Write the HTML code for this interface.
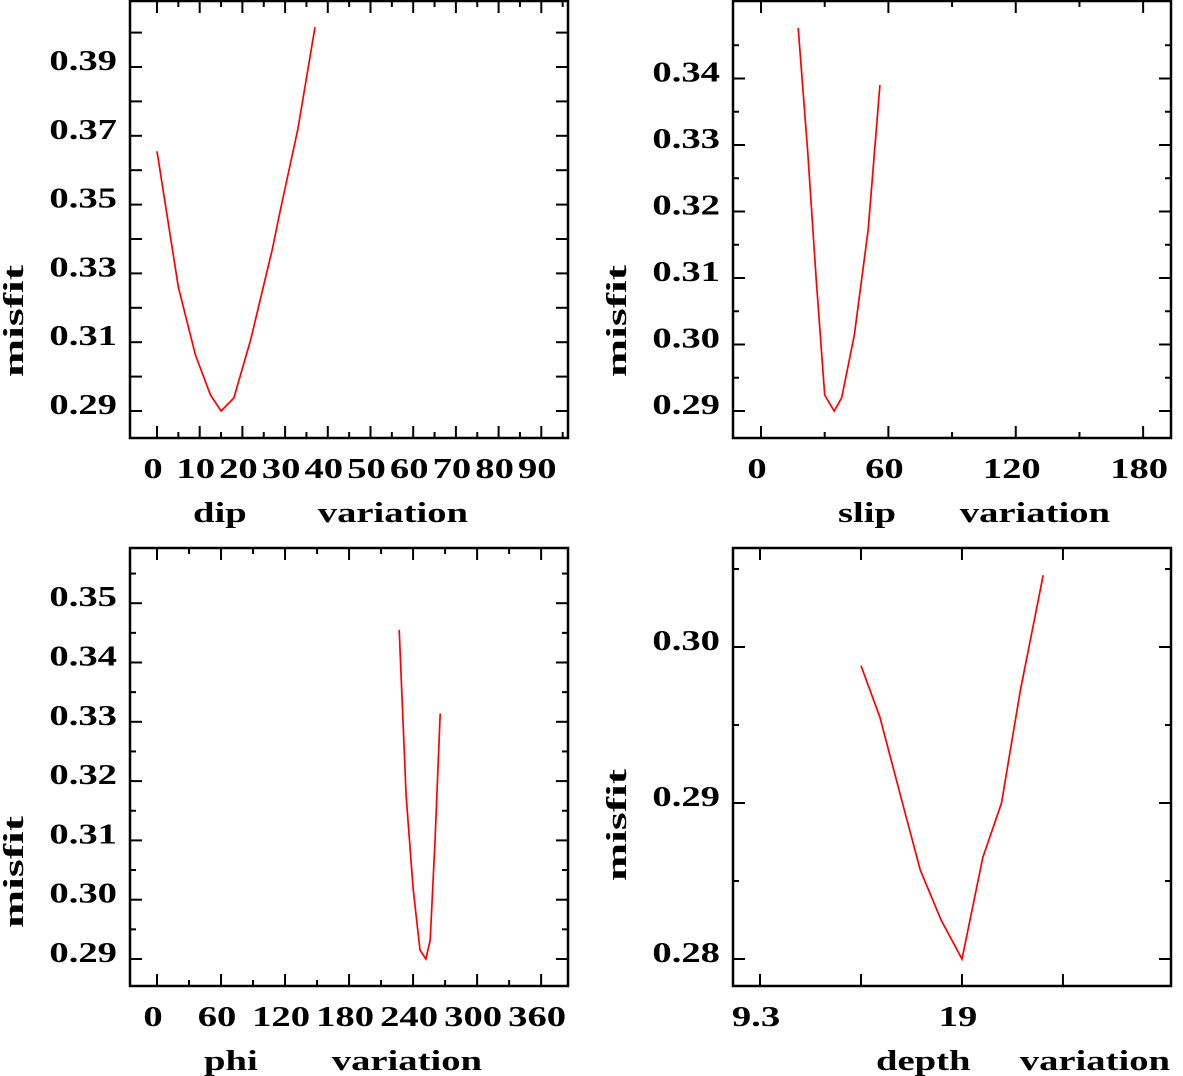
<!DOCTYPE html>
<html><head><meta charset="utf-8"><style>
html,body{margin:0;padding:0;background:#fff;}
svg{display:block;}
text{font-family:"Liberation Serif",serif;font-weight:bold;fill:#000;}
</style></head><body>
<svg id="chart" width="1183" height="1076" viewBox="0 0 1183 1076" xmlns="http://www.w3.org/2000/svg"></svg>
<script>
// Panel 1: dip
const dipX = [0, 5, 9, 12.5, 15, 18, 22, 27, 29, 33, 37];
const dipY = [0.3655, 0.3261, 0.3063, 0.2947, 0.29, 0.2938, 0.311, 0.337, 0.349, 0.372, 0.4016];
const dipXTicks = [0,10,20,30,40,50,60,70,80,90];
const dipYTicks = [0.29,0.31,0.33,0.35,0.37,0.39];
// Panel 2: slip
const slipX = [17.5, 22, 26, 30, 34.5, 38, 44, 50.5, 56];
const slipY = [0.3476, 0.329, 0.3098, 0.2924, 0.29, 0.292, 0.3015, 0.3173, 0.339];
const slipXTicks = [0,60,120,180];
const slipYTicks = [0.29,0.30,0.31,0.32,0.33,0.34];
// Panel 3: phi
const phiX = [227, 233.5, 240, 246.5, 252, 256, 260.6, 265.4];
const phiY = [0.3455, 0.3176, 0.3019, 0.2915, 0.29, 0.2932, 0.3102, 0.3314];
const phiXTicks = [0,60,120,180,240,300,360];
const phiYTicks = [0.29,0.30,0.31,0.32,0.33,0.34,0.35];
// Panel 4: depth
const depthX = [14.15, 15.06, 16.2, 17.0, 18.0, 19.0, 20.0, 20.9, 21.8, 22.9];
const depthY = [0.2988, 0.2955, 0.2897, 0.2857, 0.2825, 0.28, 0.2865, 0.29, 0.2972, 0.3046];
const depthXTicks = ["9.3","19"];
const depthYTicks = [0.28,0.29,0.30];

const NS="http://www.w3.org/2000/svg";
const svg=document.getElementById('chart');
function mk(tag,attrs,parent){const e=document.createElementNS(NS,tag);for(const k in attrs)e.setAttribute(k,attrs[k]);(parent||svg).appendChild(e);return e;}
const SX=1.38, FS=28;

function panel(p){
  const g=mk('g',{});
  
  
  const sx=v=>p.x0+(v-p.xa)*p.xs;
  const sy=v=>p.y0-(v-p.ya)*p.ys;
  const box=mk('rect',{x:p.L,y:p.T,width:p.R-p.L,height:p.B-p.T,fill:'none',stroke:'#000','stroke-width':2.5},g);
  
  
  p.xMajor.forEach(v=>{const x=sx(v);
    mk('line',{x1:x,x2:x,y1:p.B,y2:p.B-12,stroke:'#000','stroke-width':2},g);
    mk('line',{x1:x,x2:x,y1:p.T,y2:p.T+12,stroke:'#000','stroke-width':2},g);});
  p.xMinor.forEach(v=>{const x=sx(v);
    mk('line',{x1:x,x2:x,y1:p.B,y2:p.B-6,stroke:'#000','stroke-width':2},g);
    mk('line',{x1:x,x2:x,y1:p.T,y2:p.T+6,stroke:'#000','stroke-width':2},g);});
  p.yMajor.forEach(v=>{const y=sy(v);
    mk('line',{x1:p.L,x2:p.L+12,y1:y,y2:y,stroke:'#000','stroke-width':2},g);
    mk('line',{x1:p.R,x2:p.R-12,y1:y,y2:y,stroke:'#000','stroke-width':2},g);});
  p.yMinor.forEach(v=>{const y=sy(v);
    mk('line',{x1:p.L,x2:p.L+6,y1:y,y2:y,stroke:'#000','stroke-width':2},g);
    mk('line',{x1:p.R,x2:p.R-6,y1:y,y2:y,stroke:'#000','stroke-width':2},g);});
  p.xLabels.forEach(v=>{const t=mk('text',{x:0,y:0,'text-anchor':'middle','font-size':FS,transform:`translate(${sx(+v)-4},${p.B+40}) scale(${SX},1)`},g);t.textContent=v;
    
    });
  p.yLabels.forEach(v=>{const t=mk('text',{x:0,y:0,'text-anchor':'end','font-size':FS,transform:`translate(${p.L-13},${sy(v)+3}) scale(${SX},1)`},g);t.textContent=v.toFixed(2);
    
    });
  const w=p.xtitle.split(' ');
  const xt=mk('text',{x:0,y:0,'font-size':FS,transform:`translate(${p.xt0},${p.B+84}) scale(${SX},1)`},g);
  xt.textContent=w[0];
  
  
  const xt2=mk('text',{x:0,y:0,'font-size':FS,'text-anchor':'end',transform:`translate(${p.xt1},${p.B+84}) scale(${SX},1)`},g);
  xt2.textContent=w[1];
  
  
  const yt=mk('text',{x:0,y:0,'text-anchor':'middle','font-size':FS,textLength:112,lengthAdjust:'spacingAndGlyphs',transform:`translate(${p.L-107},${p.ytY}) rotate(-90)`},g);
  yt.textContent='misfit';
  
  
  const d=p.xs_data.map((v,i)=>(i?'L':'M')+sx(v).toFixed(1)+' '+sy(p.ys_data[i]).toFixed(1)).join(' ');
  const path=mk('path',{d:d,fill:'none',stroke:'#ff0000','stroke-width':1.7},g);
  
  
}
function range(a,b,s){const r=[];for(let v=a;v<=b+1e-9;v+=s)r.push(+v.toFixed(4));return r;}

panel({name:'dip',L:130,R:568,T:1,B:438,x0:157,xa:0,xs:4.27,y0:411,ya:0.29,ys:3440,
  xMajor:dipXTicks,xMinor:range(5,95,10),yMajor:range(0.29,0.40,0.01),yMinor:[],
  xLabels:dipXTicks.map(String),yLabels:dipYTicks,xtitle:'dip variation',xt0:193,xt1:468,ytY:321,
  xs_data:dipX,ys_data:dipY});
panel({name:'slip',L:733,R:1171,T:1,B:438,x0:761,xa:0,xs:2.123,y0:411,ya:0.29,ys:6650,
  xMajor:slipXTicks,xMinor:range(30,150,60),yMajor:range(0.29,0.34,0.01),yMinor:range(0.295,0.345,0.01),
  xLabels:slipXTicks.map(String),yLabels:slipYTicks,xtitle:'slip variation',xt0:838,xt1:1110,ytY:321,
  xs_data:slipX,ys_data:slipY});
panel({name:'phi',L:130,R:568,T:548,B:986,x0:157,xa:0,xs:1.067,y0:959,ya:0.29,ys:5930,
  xMajor:phiXTicks,xMinor:range(30,330,60),yMajor:range(0.29,0.35,0.01),yMinor:range(0.295,0.355,0.01),
  xLabels:phiXTicks.map(String),yLabels:phiYTicks,xtitle:'phi variation',xt0:204,xt1:482,ytY:872,
  xs_data:phiX,ys_data:phiY});
panel({name:'depth',L:733,R:1171,T:548,B:986,x0:760,xa:9.3,xs:20.82,y0:959,ya:0.28,ys:15600,
  xMajor:[9.3,14.15,19,23.85],xMinor:[],yMajor:depthYTicks,yMinor:[0.285,0.295,0.305],
  xLabels:depthXTicks,yLabels:depthYTicks,xtitle:'depth variation',xt0:876,xt1:1170,ytY:825,
  xs_data:depthX,ys_data:depthY});
</script>
</body></html>
